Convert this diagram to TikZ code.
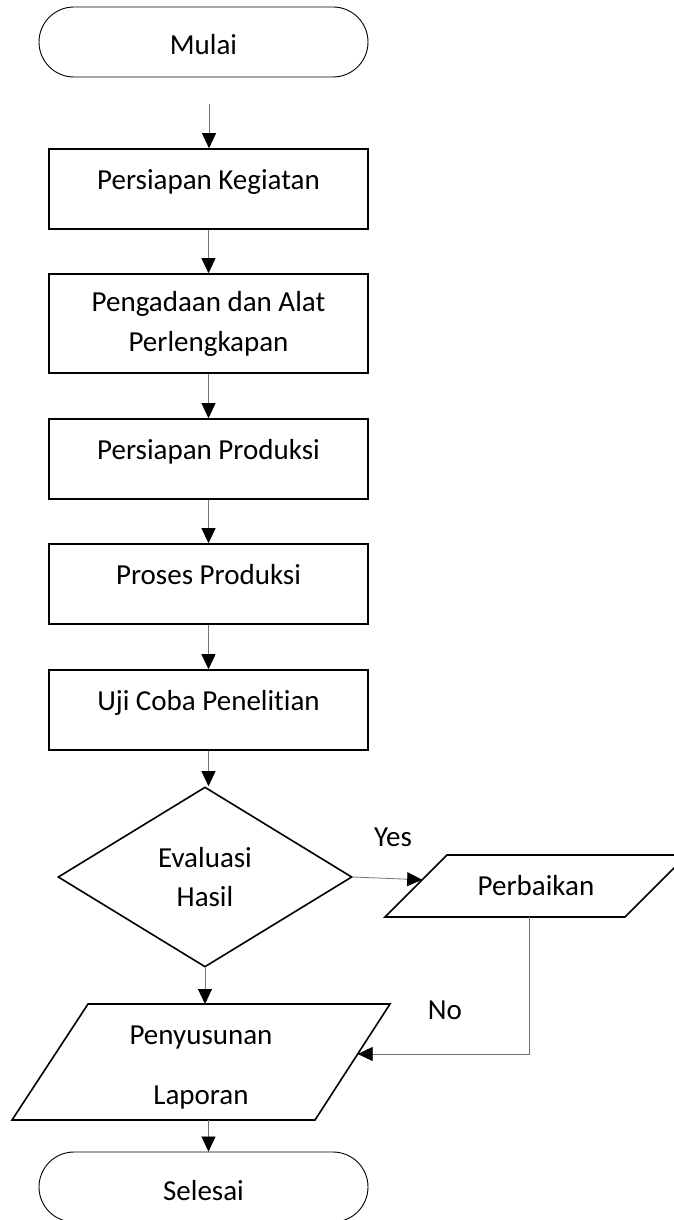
\documentclass[tikz,border=0pt]{standalone}
\usepackage{fontspec}
\setmainfont{Carlito}[Ligatures=NoCommon]
\usetikzlibrary{shapes.geometric,arrows.meta,calc}

\begin{document}
\begin{tikzpicture}[x=1pt,y=-1pt,
    every node/.style={font=\fontsize{29}{40}\selectfont},
    terminal/.style={draw,line width=0.9pt,rounded corners=35pt,minimum width=329pt,minimum height=70pt,text height=26pt,text depth=0pt},
    kotak/.style={draw,line width=1.6pt,minimum width=319pt,minimum height=80pt},
    satubaris/.style={text height=10pt,text depth=10pt},
    garis/.style={line width=1.6pt,line join=miter},
    panah/.style={draw=black!55,line width=0.8pt,-{Triangle[length=15pt,width=14pt,color=black]}}]
            \useasboundingbox (0,0) rectangle (674,1220);
            % Mulai dan tahapan
            \node[terminal] (mulai) at (203.5,42) {Mulai};
            \node[kotak,satubaris] (siap) at (208.5,189) {Persiapan Kegiatan};
            \node[kotak,minimum height=99pt,align=center] (ada) at (208.5,323.5) {Pengadaan dan Alat\\Perlengkapan};
            \node[kotak,satubaris] (produksi) at (208.5,459) {Persiapan Produksi};
            \node[kotak,satubaris] (proses) at (208.5,584) {Proses Produksi};
            \node[kotak,satubaris] (uji) at (208.5,710) {Uji Coba Penelitian};
            % Keputusan
            \node[draw,diamond,line width=1.6pt,aspect=1.6,minimum width=294pt,minimum height=180pt,align=center,font=\fontsize{29}{39}\selectfont] (eval) at (205,877) {Evaluasi\\Hasil};
            % Jajar genjang Perbaikan
            \coordinate (Q1) at (385,917);
            \coordinate (Q2) at (625,917);
            \coordinate (Q3) at (687,855);
            \coordinate (Q4) at (447,855);
            \draw[garis] (Q1) -- (Q2) -- (Q3) -- (Q4) -- cycle;
            \node (perb) at (536,886) {Perbaikan};
            % Jajar genjang Penyusunan
            \coordinate (P1) at (12,1120);
            \coordinate (P2) at (315,1120);
            \coordinate (P3) at (390,1004);
            \coordinate (P4) at (88,1004);
            \draw[garis] (P1) -- (P2) -- (P3) -- (P4) -- cycle;
            \node[align=center,font=\fontsize{29}{60}\selectfont] (susun) at (201,1068) {Penyusunan\\Laporan};
            \node[terminal] (selesai) at (203.5,1187) {Selesai};
            % Label
            \node (yes) at (393,837) {Yes};
            \node (no) at (445,1010) {No};
            % Titik bantu
            \coordinate (awal) at (209,104);
            \coordinate (masuk) at ($(Q1)!0.6!(Q4)$);
            \coordinate (keluar) at ($(Q1)!0.6!(Q2)$);
            \coordinate (balik) at ($(P2)!0.569!(P3)$);
            % Panah
            \draw[panah] (awal) -- (awal |- siap.north);
            \draw[panah] (siap) -- (ada);
            \draw[panah] (ada) -- (produksi);
            \draw[panah] (produksi) -- (proses);
            \draw[panah] (proses) -- (uji);
            \draw[panah] (uji.south) -- (uji.south |- eval.north);
            \draw[panah] (eval.east) -- (masuk);
            \draw[panah] (eval.south) -- (eval.south |- P4);
            \draw[panah] (keluar) |- (balik);
            \draw[panah] (siap.south |- P1) -- (siap.south |- selesai.north);
        \end{tikzpicture}
\end{document}
